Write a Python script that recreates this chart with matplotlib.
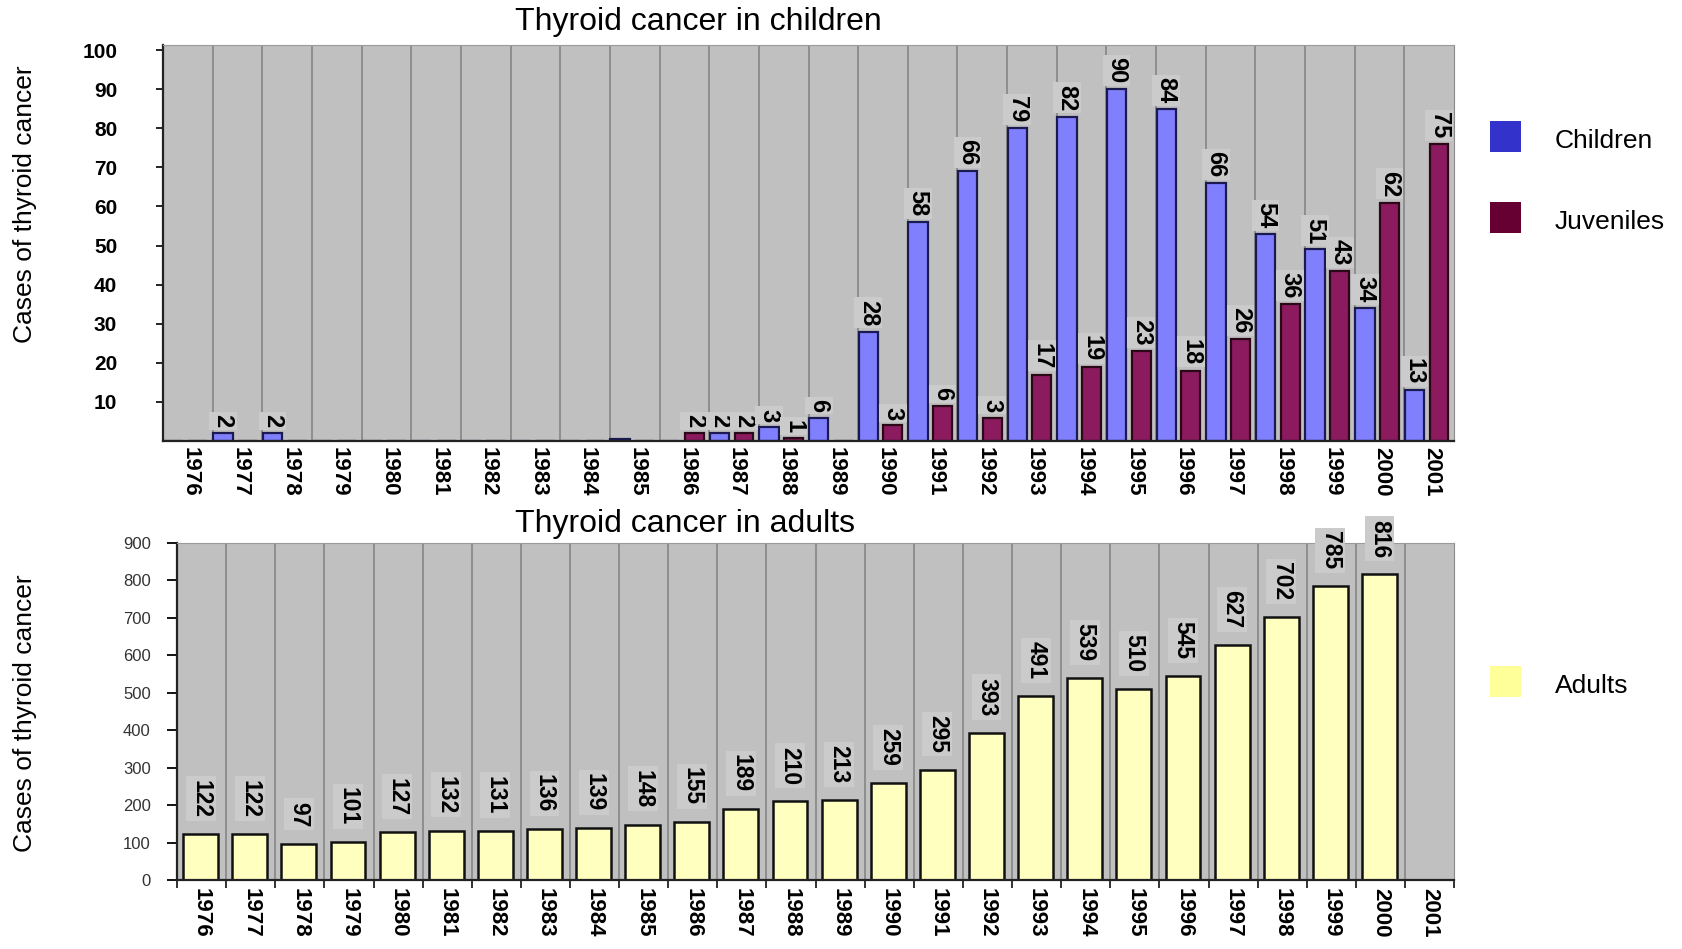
import matplotlib
matplotlib.use('Agg')
import matplotlib.pyplot as plt
from matplotlib.patches import Rectangle
import numpy as np

plt.rcParams['font.family'] = ['Liberation Sans', 'DejaVu Sans']

years = [str(y) for y in range(1976, 2002)]

# Top chart (bar heights)
children = [0, 2, 2, 0, 0, 0, 0, 0, 0, 0.5, 0, 2, 3.5, 6, 28, 56, 69, 80, 83, 90, 85, 66, 53, 49, 34, 13]
juveniles = [0, 0, 0, 0, 0, 0, 0, 0, 0, 0, 2, 2, 0.7, 0, 4, 9, 6, 17, 19, 23, 18, 26, 35, 43.5, 61, 76]
# Data labels as printed in the picture
children_labels = ['', '2', '2', '', '', '', '', '', '', '', '', '2', '3', '6', '28', '58', '66',
                   '79', '82', '90', '84', '66', '54', '51', '34', '13']
juvenile_labels = ['', '', '', '', '', '', '', '', '', '', '2', '2', '1', '', '3', '6', '3',
                   '17', '19', '23', '18', '26', '36', '43', '62', '75']

# Bottom chart
adults = [122, 122, 97, 101, 127, 132, 131, 136, 139, 148, 155, 189, 210, 213, 259, 295,
          393, 491, 539, 510, 545, 627, 702, 785, 816, 0]
adult_labels = ['122', '122', '97', '101', '127', '132', '131', '136', '139', '148', '155', '189',
                '210', '213', '259', '295', '393', '491', '539', '510', '545', '627', '702',
                '785', '816', '']

top_ticks = [10, 20, 30, 40, 50, 60, 70, 80, 90, 100]
bottom_ticks = [0, 100, 200, 300, 400, 500, 600, 700, 800, 900]

BG = '#c0c0c0'
GRID = '#8a8a8a'
C_CHILD = '#8080ff'
C_JUV = '#8b1a5e'
C_ADULT = '#ffffc0'
BOX = '#cbcbcb'

fig = plt.figure(figsize=(16.83, 9.49), dpi=100)

# ---------- top chart ----------
ax1 = fig.add_axes([0.0969, 0.5353, 0.767, 0.4173])
ax1.set_facecolor(BG)
n = len(years)
x = np.arange(n)
for b in range(1, n):
    ax1.axvline(b, color=GRID, lw=1.3, zorder=1)
ax1.bar(x + 0.01, children, width=0.39, align='edge', color=C_CHILD,
        edgecolor='#1a1a50', linewidth=1.6, zorder=2)
ax1.bar(x + 0.51, juveniles, width=0.38, align='edge', color=C_JUV,
        edgecolor='#2a0818', linewidth=1.6, zorder=2)
for i in range(n):
    if children_labels[i]:
        ax1.annotate(children_labels[i], (i + 0.205, children[i]), xytext=(0, 4),
                     textcoords='offset points', rotation=-90, ha='center', va='bottom',
                     fontsize=17, fontweight='bold', zorder=3,
                     bbox=dict(boxstyle='square,pad=0.1', fc=BOX, ec='none'))
    if juvenile_labels[i]:
        ax1.annotate(juvenile_labels[i], (i + 0.70, juveniles[i]), xytext=(0, 4),
                     textcoords='offset points', rotation=-90, ha='center', va='bottom',
                     fontsize=17, fontweight='bold', zorder=3,
                     bbox=dict(boxstyle='square,pad=0.1', fc=BOX, ec='none'))
ax1.set_xlim(0, n)
ax1.set_ylim(0, 101.3)
ax1.set_yticks(top_ticks)
ax1.set_yticklabels([str(t) for t in top_ticks], fontsize=15, fontweight='bold')
ax1.set_xticks(x + 0.55)
ax1.set_xticklabels(years, rotation=-90, fontsize=16, fontweight='bold')
ax1.tick_params(axis='x', length=0, pad=4)
ax1.tick_params(axis='y', length=5, width=1.2, pad=28)
ax1.spines['left'].set_color('#222222')
ax1.spines['left'].set_linewidth(1.6)
ax1.spines['bottom'].set_color('#222222')
ax1.spines['bottom'].set_linewidth(1.6)
ax1.spines['top'].set_color('#9a9a9a')
ax1.spines['right'].set_color(GRID)

# ---------- bottom chart ----------
ax2 = fig.add_axes([0.1052, 0.0727, 0.7588, 0.3551])
ax2.set_facecolor(BG)
for b in range(1, n):
    ax2.axvline(b, color=GRID, lw=1.3, zorder=1)
ax2.bar(x + 0.48, adults, width=0.71, color=C_ADULT, edgecolor='#111111',
        linewidth=1.8, zorder=2)
for i in range(n):
    if adult_labels[i]:
        ax2.annotate(adult_labels[i], (i + 0.48, adults[i]), xytext=(0, 12),
                     textcoords='offset points', rotation=-90, ha='center', va='bottom',
                     fontsize=16.5, fontweight='bold', zorder=3,
                     bbox=dict(boxstyle='square,pad=0.15', fc=BOX, ec='none'))
ax2.set_xlim(0, n)
ax2.set_ylim(0, 900)
ax2.set_yticks(bottom_ticks)
ax2.set_yticklabels([str(t) for t in bottom_ticks], fontsize=12, color='#333333')
ax2.set_xticks(np.arange(0, n + 1))
ax2.set_xticklabels([])
ax2.set_xticks(x + 0.5, minor=True)
ax2.set_xticklabels(years, minor=True, rotation=-90, fontsize=16, fontweight='bold')
ax2.tick_params(axis='x', which='major', length=6, width=1.3, color='#222222')
ax2.tick_params(axis='x', which='minor', length=0, pad=6)
ax2.tick_params(axis='y', length=7, width=1.3, pad=12)
ax2.spines['left'].set_color('#222222')
ax2.spines['left'].set_linewidth(1.6)
ax2.spines['bottom'].set_color('#222222')
ax2.spines['bottom'].set_linewidth(1.6)
ax2.spines['top'].set_color('#9a9a9a')
ax2.spines['right'].set_color(GRID)

# ---------- titles, axis labels ----------
fig.text(0.415, 0.977, 'Thyroid cancer in children', ha='center', va='center', fontsize=23)
fig.text(0.407, 0.448, 'Thyroid cancer in adults', ha='center', va='center', fontsize=23)
fig.text(0.015, 0.785, 'Cases of thyroid cancer', rotation=90, ha='center', va='center', fontsize=19)
fig.text(0.015, 0.248, 'Cases of thyroid cancer', rotation=90, ha='center', va='center', fontsize=19)

# ---------- legends ----------
sq_w, sq_h = 0.0184, 0.0327
for (yb, col, name, ty) in [(0.840, '#3333cc', 'Children', 0.851),
                            (0.7545, '#660033', 'Juveniles', 0.766),
                            (0.2655, '#ffff99', 'Adults', 0.277)]:
    fig.patches.append(Rectangle((0.8853, yb), sq_w, sq_h, transform=fig.transFigure,
                                 facecolor=col, edgecolor='none'))
    fig.text(0.924, ty, name, ha='left', va='center', fontsize=19)

fig.savefig('out.png', dpi=100)
